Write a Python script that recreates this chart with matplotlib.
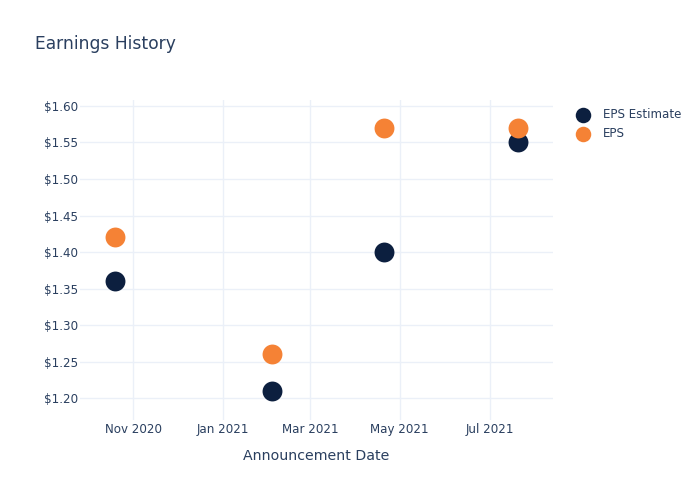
import matplotlib.pyplot as plt
import matplotlib.dates as mdates
import numpy as np

dates = np.array(['2020-10-20', '2021-02-03', '2021-04-20', '2021-07-20'], dtype='datetime64[D]')
eps_estimate = [1.36, 1.21, 1.40, 1.55]
eps_actual = [1.42, 1.26, 1.57, 1.57]
y_ticks = [1.20, 1.25, 1.30, 1.35, 1.40, 1.45, 1.50, 1.55, 1.60]

text_col = '#2a3f5f'
grid_col = '#ebf0f8'

fig = plt.figure(figsize=(7, 5), dpi=100)
ax = fig.add_axes([80 / 700, 80 / 500, 473 / 700, 320 / 500])

ax.scatter(dates, eps_estimate, s=205, color='#0c1f3f', label='EPS Estimate', zorder=3, linewidths=0)
ax.scatter(dates, eps_actual, s=205, color='#f58235', label='EPS', zorder=4, linewidths=0)

ax.set_xlim(np.datetime64('2020-09-26'), np.datetime64('2021-08-13'))
ax.set_ylim(1.1699, 1.6082)
ax.set_yticks(y_ticks)
ax.set_yticklabels(['$%.2f' % v for v in y_ticks])
ax.xaxis.set_major_locator(mdates.MonthLocator(bymonth=[1, 3, 5, 7, 11]))
ax.xaxis.set_major_formatter(mdates.DateFormatter('%b %Y'))

for s in ax.spines.values():
    s.set_visible(False)
ax.grid(True, color=grid_col, linewidth=1)
ax.set_axisbelow(True)
ax.tick_params(length=0, labelsize=8.6, colors=text_col)
ax.tick_params(axis='y', pad=1.5)
ax.tick_params(axis='x', pad=2.5)

ax.set_xlabel('Announcement Date', fontsize=10.2, color=text_col, labelpad=9)
fig.text(35 / 700, 1 - 44 / 500, 'Earnings History', fontsize=12.3, color=text_col, va='center', ha='left')

leg = ax.legend(loc='upper left', bbox_to_anchor=(1.02, 1.0), frameon=False, fontsize=8.6,
                labelcolor=text_col, handletextpad=0.7, borderaxespad=0.3, labelspacing=0.5,
                markerscale=0.78)

plt.savefig('out.png', dpi=100)
